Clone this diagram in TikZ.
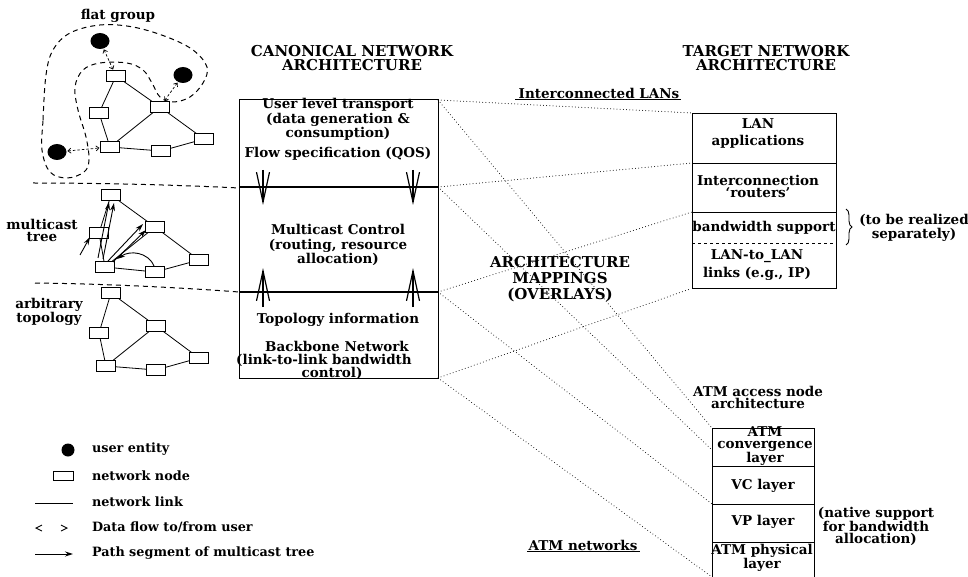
\documentclass[tikz,border=0pt]{standalone}
\usepackage{fontspec}
\setmainfont{DejaVu Serif}
\usetikzlibrary{arrows.meta,decorations.pathreplacing,shapes.geometric}

\begin{document}
\begin{tikzpicture}[x=1pt,y=-1pt,
  every node/.style={inner sep=0pt, outer sep=0pt},
  lbl/.style={font=\fontsize{13.5}{12}\selectfont\bfseries, align=center},
  key/.style={font=\fontsize{12.8}{11}\selectfont\bfseries, anchor=west},
  head/.style={font=\fontsize{15}{14}\selectfont\bfseries, align=center},
  nn/.style={draw, line width=0.85pt, minimum width=19pt, minimum height=11pt},
  ue/.style={fill, ellipse, minimum width=19pt, minimum height=16pt},
  link/.style={line width=0.8pt},
  grp/.style={dash pattern=on 5pt off 4pt, line width=1pt},
  flow/.style={dash pattern=on 2.5pt off 2pt, line width=0.7pt,
    {Straight Barb[length=3pt,width=5pt]}-{Straight Barb[length=3pt,width=5pt]}},
  mpath/.style={line width=0.9pt, -{Stealth[length=8pt,width=5pt]}},
  map/.style={line width=1pt, dash pattern=on 0pt off 3.2pt, line cap=round},
  layer/.style={line width=0.75pt},
  divider/.style={line width=1.2pt},
  sep/.style={dash pattern=on 5pt off 4pt, line width=1pt},
  bigarrow/.style={line width=1.3pt, -{Straight Barb[length=30pt,width=13pt,line width=1.2pt]}},
]
\useasboundingbox (0,0) rectangle (968,577);

% ---------- flat group ----------
\node[lbl] (flatT) at (118,16) {flat group};
\draw[grp] plot[smooth cycle, tension=0.6] coordinates {
  (42,150) (43,120) (46,75) (53,50) (70,33) (100,25) (133,27) (167,37)
  (193,50) (207,67) (203,83) (190,97) (173,102) (160,97) (152,83) (143,70)
  (127,63) (100,63) (83,70) (75,87) (78,110) (86,137) (89,160) (84,172)
  (67,178) (50,172)};
\node[ue] (u1) at (100,41) {};
\node[ue] (u2) at (183,75) {};
\node[ue] (u3) at (57,152) {};
\node[nn] (fA) at (116,76) {};
\node[nn] (fB) at (160,107) {};
\node[nn] (fC) at (99,113) {};
\node[nn] (fD) at (110,147) {};
\node[nn] (fE) at (161,151) {};
\node[nn] (fF) at (204,139) {};
\draw[link] (fA) -- (fC) (fA) -- (fB) (fC) -- (fD) (fD) -- (fB)
            (fD) -- (fE) (fE) -- (fF) (fB) -- (fF);
\draw[flow, shorten <=1pt, shorten >=1pt] (u1) -- (fA);
\draw[flow, shorten <=1pt, shorten >=1pt] (u2) -- (fB);
\draw[flow, shorten <=1pt, shorten >=1pt] (u3) -- (fD);

% ---------- separators ----------
\draw[sep] (33,183) .. controls (120,183) and (200,186) .. (239,188);
\draw[sep] (35,283) .. controls (120,284) and (200,289) .. (239,292);

% ---------- multicast tree ----------
\node[lbl] (mtT) at (42,230) {multicast\\tree};
\node[nn] (ma) at (111,195) {};
\node[nn] (mb) at (155,227) {};
\node[nn] (mc) at (99,233) {};
\node[nn] (md) at (105,267) {};
\node[nn] (me) at (155,272) {};
\node[nn] (mf) at (199,260) {};
\draw[link] (ma) -- (mc) (ma) -- (mb) (mc) -- (md) (md) -- (mb)
            (md) -- (me) (me) -- (mf) (mb) -- (mf);
\coordinate (p1s) at (98,258);  \coordinate (p1e) at (109,202);
\coordinate (p2s) at (103,259); \coordinate (p2e) at (114,203);
\coordinate (p3s) at (108,261); \coordinate (p3e) at (143,224);
\coordinate (p4s) at (113,262); \coordinate (p4e) at (146,230);
\coordinate (p5s) at (154,266); \coordinate (p5e) at (117,259);
\coordinate (p6s) at (80,255);  \coordinate (p6e) at (90,237);
\draw[mpath] (p1s) -- (p1e);
\draw[mpath] (p2s) -- (p2e);
\draw[mpath] (p3s) -- (p3e);
\draw[mpath] (p4s) -- (p4e);
\draw[mpath] (p5s) .. controls (148,252) and (130,250) .. (p5e);
\draw[mpath] (p6s) -- (p6e);

% ---------- arbitrary topology ----------
\node[lbl] (atT) at (49,312) {arbitrary\\topology};
\node[nn] (tp) at (111,293) {};
\node[nn] (tq) at (156,326) {};
\node[nn] (tr) at (99,333) {};
\node[nn] (ts) at (106,366) {};
\node[nn] (tt) at (156,370) {};
\node[nn] (tu) at (199,358) {};
\draw[link] (tp) -- (tr) (tp) -- (tq) (tr) -- (ts) (ts) -- (tq)
            (ts) -- (tt) (tt) -- (tu) (tq) -- (tu);

% ---------- canonical architecture ----------
\node[head] (canon) at (352,58) {CANONICAL NETWORK\\ARCHITECTURE};
\draw[layer] (239,99) rectangle (438,378);
\draw[divider] (239,187) -- (438,187);
\draw[divider] (239,292) -- (438,292);
\node[lbl] (ulT) at (338,119) {User level transport\\[1pt](data generation \&\\consumption)};
\node[lbl] (fsT) at (338,154) {Flow specification (QOS)};
\node[lbl] (mcT) at (338,245) {Multicast Control\\[3pt](routing, resource\\allocation)};
\node[lbl] (tiT) at (338,320) {Topology information};
\node[lbl] (bbT1) at (337,346) {Backbone Network};
\node[lbl] (bbT2) at (324,360) {(link-to-link bandwidth};
\node[lbl] (bbT3) at (332,373) {control)};
\coordinate (dl0) at (263,170); \coordinate (dl1) at (263,205);
\coordinate (dr0) at (413,170); \coordinate (dr1) at (413,205);
\coordinate (ul0) at (263,307); \coordinate (ul1) at (263,268);
\coordinate (ur0) at (413,307); \coordinate (ur1) at (413,268);
\draw[bigarrow] (dl0) -- (dl1);
\draw[bigarrow] (dr0) -- (dr1);
\draw[bigarrow] (ul0) -- (ul1);
\draw[bigarrow] (ur0) -- (ur1);

% ---------- target architecture ----------
\node[head] (target) at (766,58) {TARGET NETWORK\\ARCHITECTURE};
\node[lbl] (lanT) at (599,93) {Interconnected LANs};
\draw[line width=0.9pt] (515,99) -- (681,99);

\draw[layer] (692,113) rectangle (836,288);
\draw[layer] (692,163) -- (836,163);
\draw[layer] (692,212) -- (836,212);
\draw[layer, dashed] (692,243) -- (836,243);
\node[lbl] (lanApp) at (758,133) {LAN\\[5pt]applications};
\node[lbl] (lanRt) at (758,186) {Interconnection\\`routers'};
\node[lbl] (lanBw) at (764,228) {bandwidth support};
\node[lbl] (lanLk) at (757,265) {LAN-to\_LAN\\[4pt]links (e.g., IP)};
\draw[decorate, decoration={brace, amplitude=6pt}, line width=0.9pt] (846,209) -- (846,245);
\node[lbl] (sepT) at (914,228) {(to be realized\\separately)};

% ---------- ATM access node ----------
\node[lbl] (atmHead) at (758,397) {ATM access node\\architecture};
\draw[layer] (712,577) -- (712,428) -- (814,428) -- (814,577);
\draw[layer] (712,466) -- (814,466);
\draw[layer] (712,504) -- (814,504);
\draw[layer] (712,542) -- (814,542);
\node[lbl] (atmCv) at (765,446) {ATM\\convergence\\layer};
\node[lbl] (atmVC) at (763,486) {VC layer};
\node[lbl] (atmVP) at (763,522) {VP layer};
\node[lbl] (atmPh) at (762,558) {ATM physical\\layer};
\node[lbl] (nativeT) at (876,526) {(native support\\for bandwidth\\allocation)};
\node[lbl] (atmNet) at (583,545) {ATM networks};
\draw[line width=0.9pt] (527,551) -- (640,551);

% ---------- mappings ----------
\node[head] (mapT) at (560,279) {ARCHITECTURE\\[2pt]MAPPINGS\\[2pt](OVERLAYS)};
\coordinate (c0) at (438,100); \coordinate (c1) at (438,187);
\coordinate (c2) at (438,292); \coordinate (c3) at (438,378);
\coordinate (l0) at (692,113); \coordinate (l1) at (692,163);
\coordinate (l2) at (692,212); \coordinate (l3) at (690,289);
\coordinate (a0) at (712,428); \coordinate (a1) at (712,450);
\coordinate (a2) at (712,504); \coordinate (a3) at (712,577);
\draw[map] (c0) -- (l0);
\draw[map] (c0) -- (a0);
\draw[map] (c1) -- (l1);
\draw[map] (c1) -- (a1);
\draw[map] (c2) -- (l2);
\draw[map] (c2) -- (a2);
\draw[map] (c3) -- (l3);
\draw[map] (c3) -- (a3);

% ---------- legend ----------
\node[ue, minimum width=13pt, minimum height=13pt] (lgUser) at (68,450) {};
\node[key] (lgUserT) at (92,449) {user entity};
\node[nn, minimum width=20pt, minimum height=9pt] (lgNode) at (63,476) {};
\node[key] (lgNodeT) at (92,476) {network node};
\coordinate (lgL0) at (35,503); \coordinate (lgL1) at (73,503);
\draw[link] (lgL0) -- (lgL1);
\node[key] (lgLinkT) at (92,502) {network link};
\draw[line width=0.9pt] (42,525) -- (36,528) -- (42,531);
\draw[line width=0.9pt] (61,525) -- (67,528) -- (61,531);
\node[key] (lgFlowT) at (92,527) {Data flow to/from user};
\coordinate (lgP0) at (35,554); \coordinate (lgP1) at (73,554);
\draw[mpath] (lgP0) -- (lgP1);
\node[key] (lgPathT) at (92,553) {Path segment of multicast tree};
\end{tikzpicture}
\end{document}
